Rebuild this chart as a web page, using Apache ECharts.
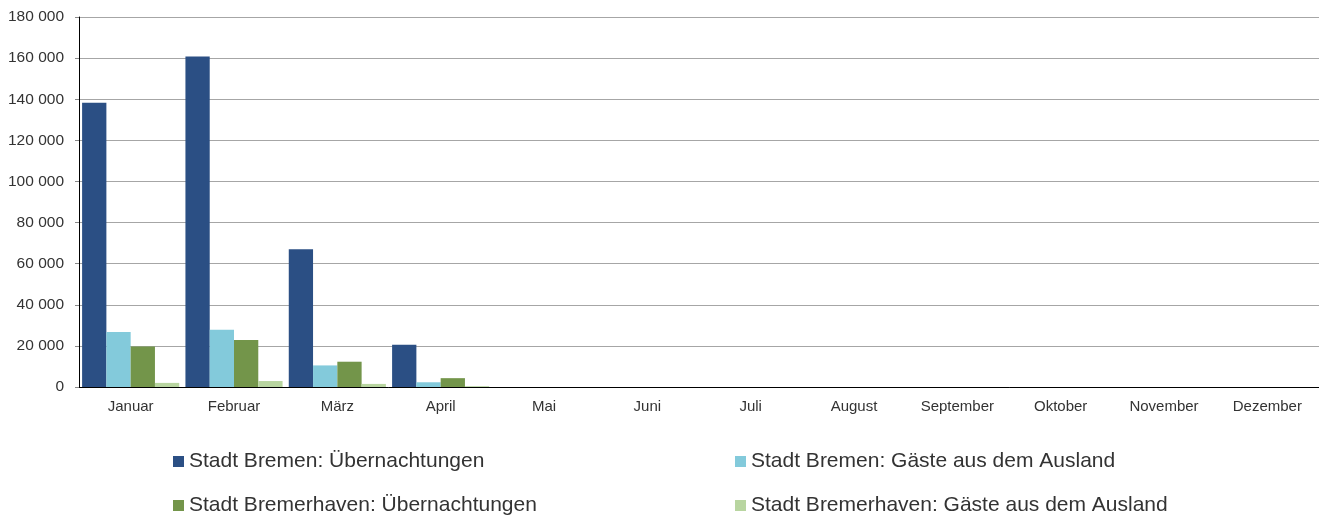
<!DOCTYPE html>
<html>
<head>
<meta charset="utf-8">
<script src="https://cdn.jsdelivr.net/npm/echarts@6/dist/echarts.min.js"></script>
<style>
  html, body { margin: 0; padding: 0; background: #fff; }
  #chart { width: 1319px; height: 515px; }
</style>
</head>
<body>
<div id="chart"></div>
<script>
const months = ['Januar', 'Februar', 'März', 'April', 'Mai', 'Juni', 'Juli', 'August', 'September', 'Oktober', 'November', 'Dezember'];
const seriesNames = [
  'Stadt Bremen: Übernachtungen',
  'Stadt Bremen: Gäste aus dem Ausland',
  'Stadt Bremerhaven: Übernachtungen',
  'Stadt Bremerhaven: Gäste aus dem Ausland'
];
const bremenNights = [138300, 160800, 67000, 20600];
const bremenForeign = [26800, 27800, 10500, 2300];
const bremerhavenNights = [19700, 22900, 12300, 4300];
const bremerhavenForeign = [2000, 2900, 1500, 400];
const colors = ['#2B4F84', '#83CADB', '#73954A', '#B8D5A0'];

const chart = echarts.init(document.getElementById('chart'));

// Zahlen mit Leerzeichen als Tausendertrenner
function fmt(v) {
  return String(v).replace(/\B(?=(\d{3})+(?!\d))/g, ' ');
}

const legendText = { fontFamily: 'Liberation Sans, Arial', fontSize: 21, color: '#333' };
// Position der Legendeneinträge (2 Spalten, 2 Zeilen)
const legendPos = [[173, 451], [735, 451], [173, 495], [735, 495]];

let option = {
  animation: false,
  color: colors,
  grid: { left: 79, top: 17, right: -7, bottom: 128 },
  legend: seriesNames.map((name, i) => ({
    left: legendPos[i][0], top: legendPos[i][1],
    padding: 0,
    itemWidth: 11, itemHeight: 11, itemGap: 5,
    icon: 'rect', textStyle: legendText,
    data: [name]
  })),
  xAxis: {
    type: 'category',
    data: months,
    axisLine: { lineStyle: { color: '#000', width: 1 } },
    axisTick: { length: 5, lineStyle: { color: '#555' } },
    axisLabel: { fontFamily: 'Liberation Sans, Arial', fontSize: 15, color: '#333', margin: 12 }
  },
  yAxis: {
    type: 'value',
    min: 0, max: 180000, interval: 20000,
    axisLine: { show: true, lineStyle: { color: '#000', width: 1 } },
    axisTick: { show: true, length: 4, lineStyle: { color: '#888' } },
    splitLine: { lineStyle: { color: '#a6a6a6', width: 1 } },
    axisLabel: {
      fontFamily: 'Liberation Sans, Arial', fontSize: 15.5, color: '#333', margin: 15,
      formatter: fmt
    }
  },
  series: [
    { name: seriesNames[0], type: 'bar', data: bremenNights, barGap: '0%', barCategoryGap: '6%' },
    { name: seriesNames[1], type: 'bar', data: bremenForeign, barGap: '0%', barCategoryGap: '6%' },
    { name: seriesNames[2], type: 'bar', data: bremerhavenNights, barGap: '0%', barCategoryGap: '6%' },
    { name: seriesNames[3], type: 'bar', data: bremerhavenForeign, barGap: '0%', barCategoryGap: '6%' }
  ]
};

chart.setOption(option);
</script>
</body>
</html>
